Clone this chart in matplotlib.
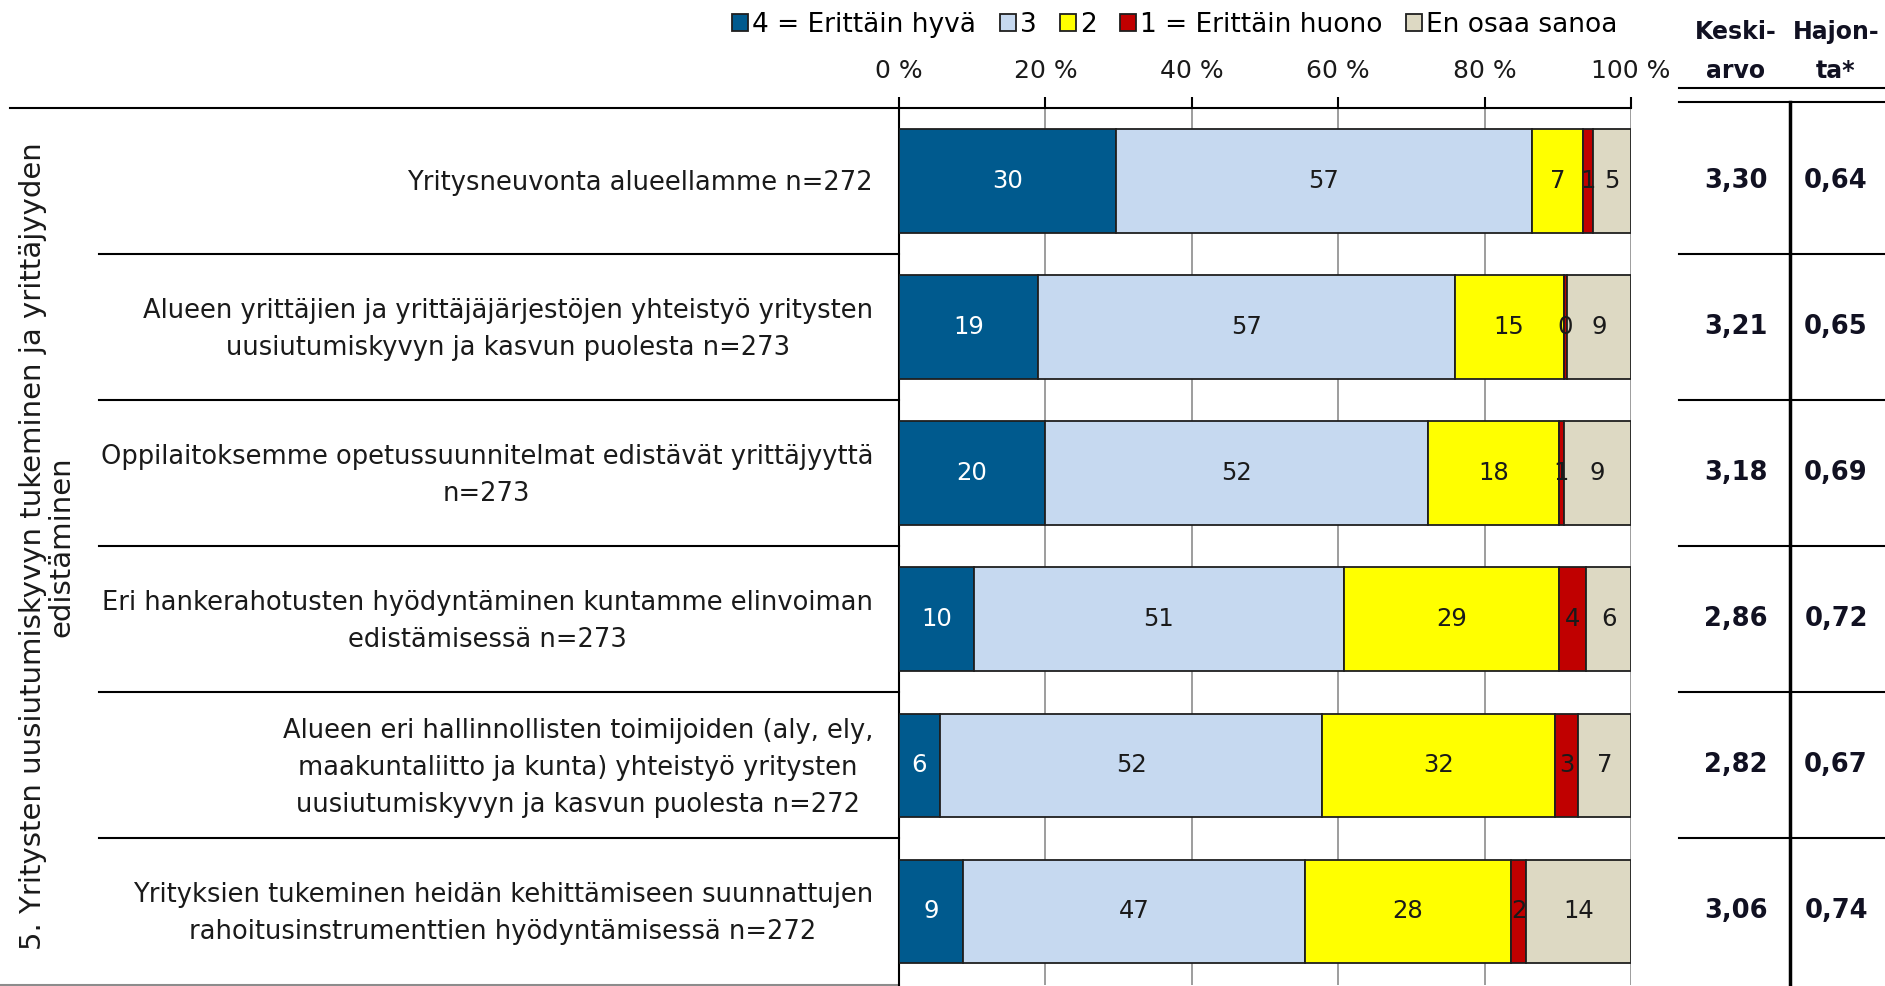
import numpy as np
import matplotlib.pyplot as plt
import matplotlib.transforms as mtransforms
from matplotlib.lines import Line2D

# kysymykset ylhäältä alas
questions = [
    'Yritysneuvonta alueellamme n=272',
    'Alueen yrittäjien ja yrittäjäjärjestöjen yhteistyö yritysten\n'
    'uusiutumiskyvyn ja kasvun puolesta n=273',
    'Oppilaitoksemme opetussuunnitelmat edistävät yrittäjyyttä\nn=273',
    'Eri hankerahotusten hyödyntäminen kuntamme elinvoiman\n'
    'edistämisessä n=273',
    'Alueen eri hallinnollisten toimijoiden (aly, ely,\n'
    'maakuntaliitto ja kunta) yhteistyö yritysten\n'
    'uusiutumiskyvyn ja kasvun puolesta n=272',
    'Yrityksien tukeminen heidän kehittämiseen suunnattujen\n'
    'rahoitusinstrumenttien hyödyntämisessä n=272',
]
group_title = '5. Yritysten uusiutumiskyvyn tukeminen ja yrittäjyyden\nedistäminen'

legend_labels = ['4 = Erittäin hyvä', '3', '2', '1 = Erittäin huono', 'En osaa sanoa']

# osuudet prosentteina (luettu kuvasta)
very_good = [29.6, 19.0, 19.9, 10.2, 5.6, 8.7]
good = [56.9, 56.9, 52.4, 50.6, 52.2, 46.8]
poor = [6.9, 14.9, 17.8, 29.3, 31.8, 28.1]
very_poor = [1.4, 0.4, 0.8, 3.8, 3.2, 2.1]
dont_know = [5.2, 8.8, 9.1, 6.1, 7.2, 14.3]

means = [3.30, 3.21, 3.18, 2.86, 2.82, 3.06]
stdevs = [0.64, 0.65, 0.69, 0.72, 0.67, 0.74]

colors = ['#005A8E', '#C6D9F0', '#FFFF00', '#C00000', '#DDD9C3']
text_colors = ['white', '#1a1a1a', '#1a1a1a', '#1a1a1a', '#1a1a1a']


def fi(x):
    return f'{x:.2f}'.replace('.', ',')


W, H = 1885, 986
plt.rcParams['font.family'] = 'DejaVu Sans'
fig = plt.figure(figsize=(W / 100, H / 100), dpi=100)

# bar area in pixels: x 899..1631, y 108..984.5
ax = fig.add_axes([899 / W, 1.5 / H, 732 / W, 876.5 / H])
y = np.arange(len(questions))
left = np.zeros(len(y))
for vals, col, lab, tcol in zip([very_good, good, poor, very_poor, dont_know],
                                colors, legend_labels, text_colors):
    bars = ax.barh(y, vals, left=left, height=0.71, color=col,
                   edgecolor='#1f1f1f', linewidth=1.3, label=lab, zorder=3)
    ax.bar_label(bars, fmt='%.0f', label_type='center', color=tcol,
                 fontsize=17.5, zorder=6)
    left += np.array(vals)

ax.set_xlim(0, 100)
ax.set_ylim(len(y) - 0.5, -0.5)
ax.xaxis.tick_top()
ax.set_xticks(np.arange(0, 101, 20))
ax.set_xticklabels([f'{t} %' for t in range(0, 101, 20)])
ax.tick_params(axis='x', direction='out', length=8, width=1.5, pad=10,
               labelsize=18, labelcolor='#1a1a1a')
ax.set_yticks([])
ax.grid(axis='x', color='#8c8c8c', lw=1.2)
ax.set_axisbelow(True)
for s in ['right', 'bottom']:
    ax.spines[s].set_visible(False)
ax.spines['left'].set_linewidth(1.5)
ax.spines['top'].set_linewidth(1.5)

fig.legend(ncol=5, loc='center', bbox_to_anchor=(1175 / W, 1 - 25 / H),
           frameon=False, fontsize=19, handlelength=0.6, handleheight=0.6,
           handletextpad=0.15, columnspacing=0.9, borderpad=0)

# row labels and table lines, rows follow the bar axis
trans = mtransforms.blended_transform_factory(fig.transFigure, ax.transData)
for i, q in enumerate(questions):
    ax.text(873 / W, i + 0.015, q, transform=trans, ha='right', va='center',
            multialignment='center', fontsize=18.5, linespacing=1.55, color='#1a1a1a')
    ax.text(1736 / W, i, fi(means[i]), transform=trans, ha='center', va='center',
            fontsize=18.5, fontweight='bold', color='#111122')
    ax.text(1836 / W, i, fi(stdevs[i]), transform=trans, ha='center', va='center',
            fontsize=18.5, fontweight='bold', color='#111122')

for b in np.arange(0.5, len(y) - 1):
    ax.plot([99 / W, 899 / W], [b, b], transform=trans, color='black', lw=1.5, clip_on=False)
    ax.plot([1679 / W, 1.0], [b, b], transform=trans, color='black', lw=1.5, clip_on=False)
ax.plot([10 / W, 899 / W], [-0.5, -0.5], transform=trans, color='black', lw=1.5, clip_on=False)
ax.plot([0, 899 / W], [len(y) - 0.5] * 2, transform=trans, color='#8c8c8c', lw=1.5, clip_on=False)

ax.text(47 / W, (len(y) - 1) / 2, group_title, transform=trans, rotation=90,
        ha='center', va='center', multialignment='center', fontsize=21,
        linespacing=1.0, color='#1a1a1a')

# right table header
fig.text(1736 / W, 1 - 51.5 / H, 'Keski-\narvo', ha='center', va='center',
         fontsize=17, fontweight='bold', linespacing=1.75, color='#111122')
fig.text(1836 / W, 1 - 51.5 / H, 'Hajon-\nta*', ha='center', va='center',
         fontsize=17, fontweight='bold', linespacing=1.75, color='#111122')
fig.add_artist(Line2D([1679 / W, 1], [1 - 88 / H] * 2, color='black', lw=1.5))
fig.add_artist(Line2D([1679 / W, 1], [1 - 102 / H] * 2, color='black', lw=1.5))
fig.add_artist(Line2D([1790 / W] * 2, [1 - 102 / H, 0], color='black', lw=2.5))

fig.savefig('out.png', dpi=100, facecolor='white')
